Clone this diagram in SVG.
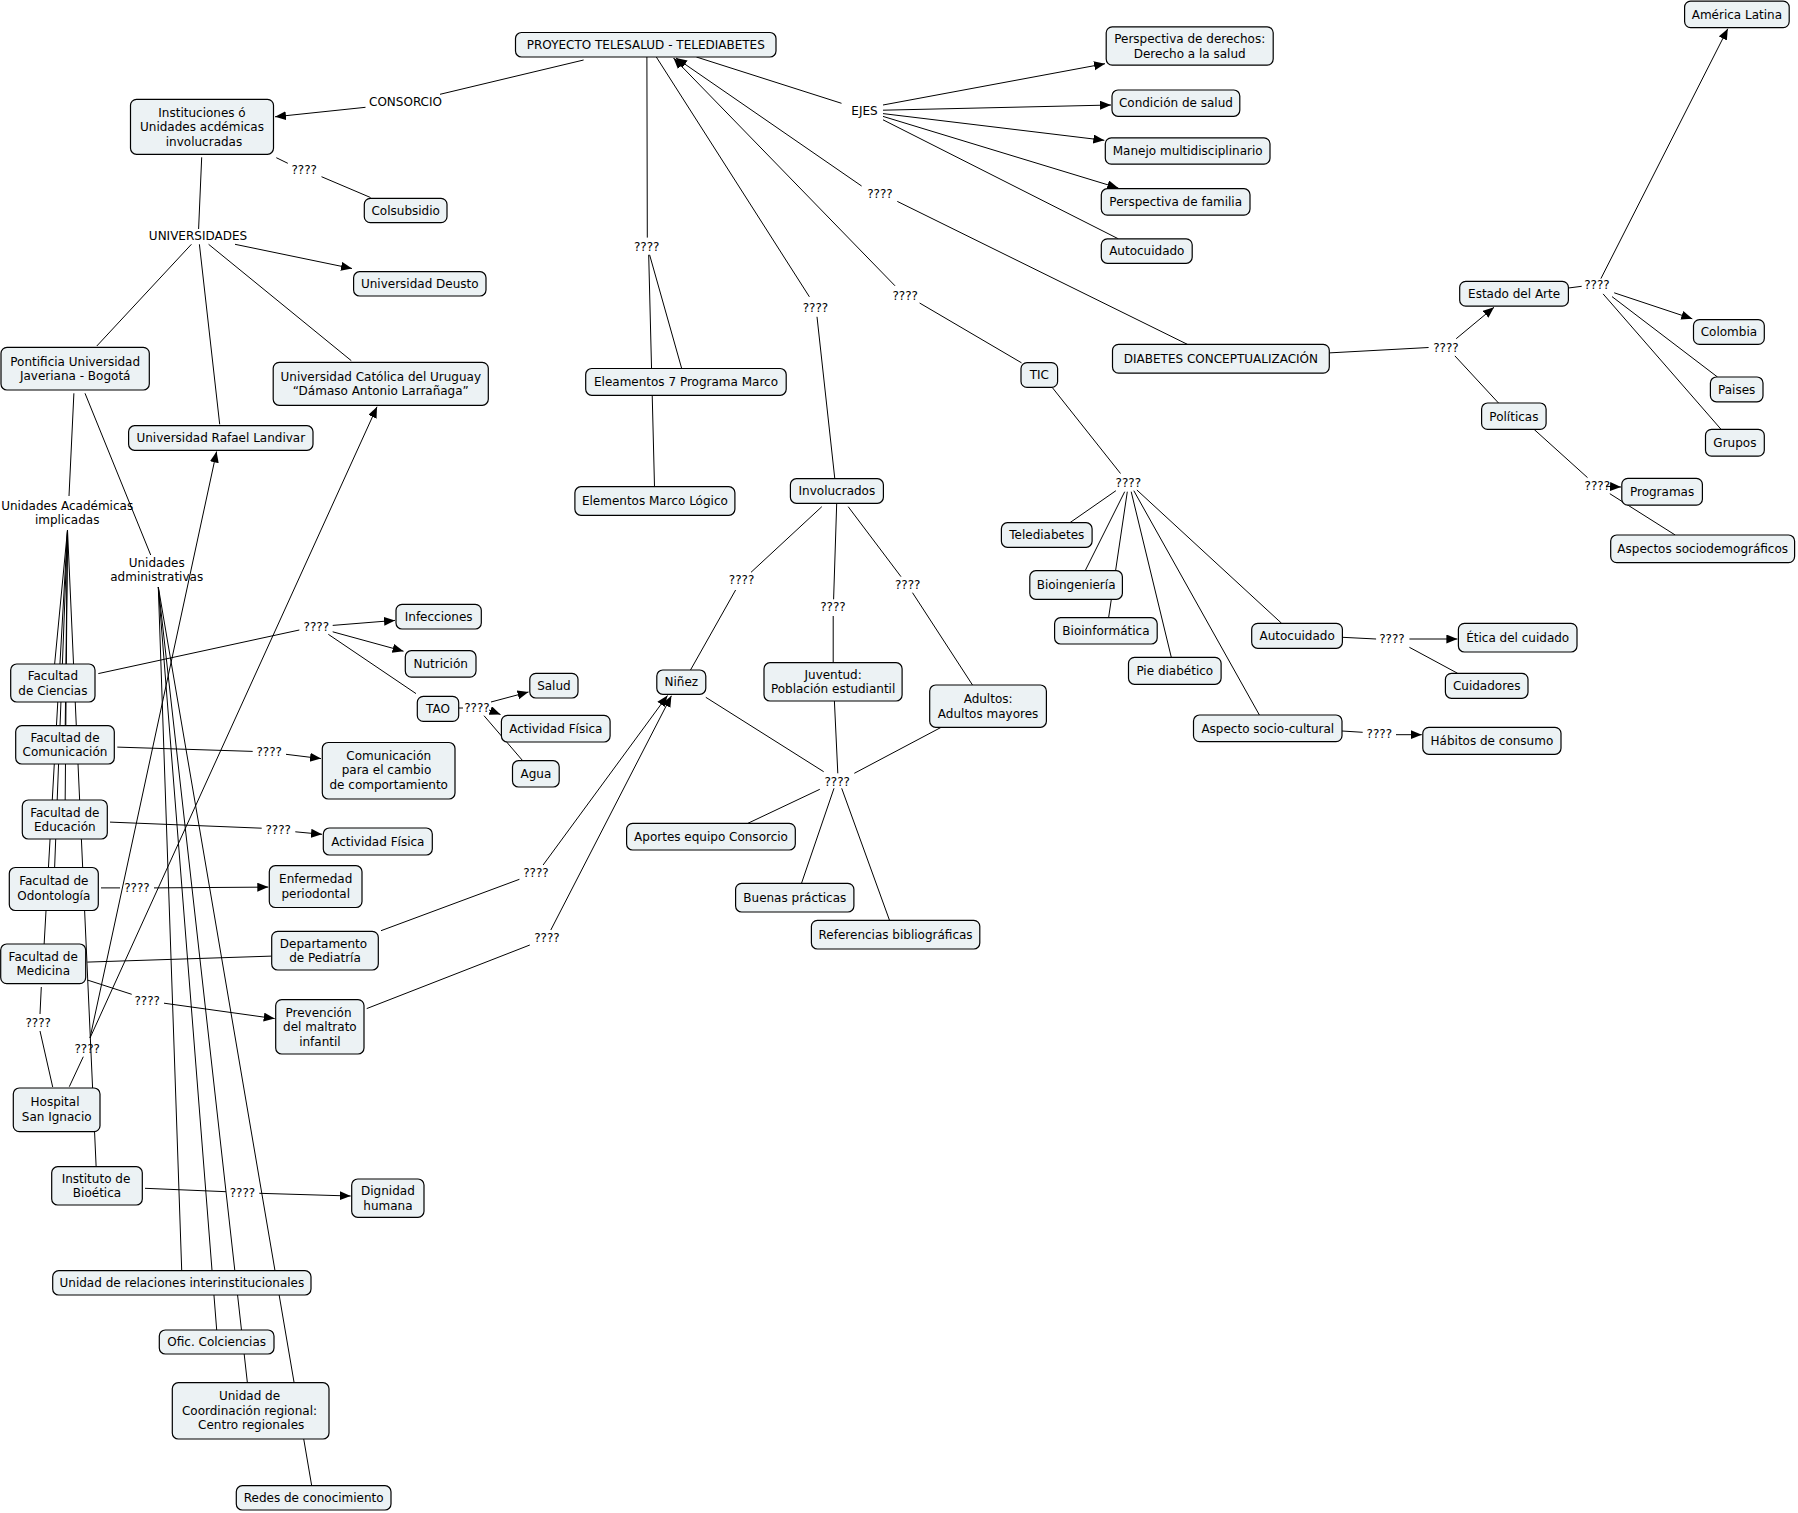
<svg xmlns="http://www.w3.org/2000/svg" width="1798" height="1513" viewBox="0 0 1798 1513">
<style>
.n rect{fill:#ecf2f4;stroke:#000;stroke-width:1.2}
text{font-family:"DejaVu Sans",Verdana,sans-serif;font-size:12px;text-anchor:middle;fill:#000}
.c line{stroke:#000;stroke-width:1;fill:none}
.c line.a{marker-end:url(#arr)}
</style>
<defs>
<marker id="arr" markerUnits="userSpaceOnUse" markerWidth="12" markerHeight="10" refX="11" refY="4.5" orient="auto">
<path d="M0,0 L11,4.5 L0,9 z" fill="#000"/>
</marker>
</defs>
<rect width="1798" height="1513" fill="#fff"/>
<g class="c" id="connectors">
<line x1="583.6" y1="60" x2="440" y2="94.3"/>
<line class="a" x1="365.5" y1="107.3" x2="275" y2="116.8"/>
<line x1="276.3" y1="157.7" x2="287.8" y2="163.3"/>
<line x1="321.5" y1="176.7" x2="370.5" y2="197.5"/>
<line x1="201.7" y1="157.3" x2="198.6" y2="229"/>
<line class="a" x1="235" y1="244.3" x2="352" y2="268.5"/>
<line x1="191.4" y1="244.3" x2="96.8" y2="346"/>
<line x1="199.4" y1="244.3" x2="219.7" y2="424.3"/>
<line x1="208.6" y1="244.3" x2="351.3" y2="360.7"/>
<line x1="73.9" y1="393.3" x2="69" y2="496"/>
<line x1="85" y1="393.3" x2="150.7" y2="555"/>
<line x1="67.5" y1="530" x2="52.8" y2="683"/>
<line x1="67.5" y1="530" x2="65" y2="745"/>
<line x1="67.5" y1="530" x2="65" y2="819"/>
<line x1="67.5" y1="530" x2="53.8" y2="889"/>
<line x1="67.5" y1="530" x2="43" y2="964"/>
<line x1="67.5" y1="530" x2="97" y2="1186"/>
<line x1="158.3" y1="587" x2="181.7" y2="1270"/>
<line x1="158.3" y1="587" x2="216.7" y2="1330"/>
<line x1="158.3" y1="587" x2="247.3" y2="1382"/>
<line x1="158.3" y1="587" x2="311.7" y2="1485.7"/>
<line x1="69.3" y1="1086.7" x2="83.3" y2="1056.7"/>
<line class="a" x1="90" y1="1038" x2="216.6" y2="451.5"/>
<line class="a" x1="90" y1="1038" x2="377" y2="406.8"/>
<line x1="41.3" y1="987" x2="40" y2="1014"/>
<line x1="40" y1="1031" x2="52.7" y2="1087"/>
<line x1="98.3" y1="673.6" x2="299.3" y2="630"/>
<line class="a" x1="332.7" y1="625.4" x2="395" y2="620.4"/>
<line class="a" x1="332.7" y1="631.8" x2="403.5" y2="651.2"/>
<line x1="328.3" y1="634.3" x2="416" y2="693.6"/>
<line x1="458.7" y1="708" x2="463" y2="708"/>
<line class="a" x1="491" y1="702" x2="528.5" y2="692"/>
<line class="a" x1="489" y1="710" x2="500.5" y2="714.5"/>
<line x1="484" y1="715.7" x2="522.1" y2="760"/>
<line x1="117.3" y1="747.1" x2="252.7" y2="751.4"/>
<line class="a" x1="286" y1="754.3" x2="321" y2="758.6"/>
<line x1="110" y1="822.1" x2="261.7" y2="828.2"/>
<line class="a" x1="295.3" y1="831.8" x2="322" y2="834.3"/>
<line x1="101" y1="887.9" x2="120" y2="887.9"/>
<line class="a" x1="154" y1="887.9" x2="268.3" y2="887.1"/>
<line x1="87.3" y1="962.1" x2="271.7" y2="956.1"/>
<line x1="87.3" y1="980" x2="131.7" y2="994.3"/>
<line class="a" x1="164" y1="1003.2" x2="274.7" y2="1018.6"/>
<line x1="145" y1="1188.3" x2="226" y2="1191.7"/>
<line class="a" x1="259.3" y1="1193.3" x2="350.7" y2="1196"/>
<line x1="381" y1="930.7" x2="519.4" y2="879.3"/>
<line class="a" x1="543.1" y1="865" x2="667.5" y2="695.5"/>
<line x1="366.7" y1="1008.6" x2="529.8" y2="945"/>
<line class="a" x1="550.8" y1="930" x2="671.4" y2="695.8"/>
<line x1="646.9" y1="57" x2="647.3" y2="237.6"/>
<line x1="648.7" y1="254.8" x2="654.5" y2="486.7"/>
<line x1="649.6" y1="254.8" x2="681.7" y2="368.5"/>
<line x1="656.3" y1="57" x2="809.4" y2="296.8"/>
<line x1="817" y1="316.8" x2="834.8" y2="478.7"/>
<line class="a" x1="895" y1="285.8" x2="673.5" y2="58"/>
<line x1="919.6" y1="303" x2="1021.5" y2="362.8"/>
<line class="a" x1="861.6" y1="186" x2="676" y2="58"/>
<line x1="897.3" y1="201.4" x2="1187.5" y2="344.4"/>
<line x1="696.4" y1="57" x2="841.5" y2="103.3"/>
<line class="a" x1="883" y1="105" x2="1105" y2="63.7"/>
<line class="a" x1="883" y1="110.2" x2="1111" y2="105"/>
<line class="a" x1="883" y1="113.6" x2="1104.3" y2="140.3"/>
<line class="a" x1="883" y1="116.4" x2="1118.3" y2="188"/>
<line x1="883" y1="119.8" x2="1118.3" y2="238.8"/>
<line x1="821.8" y1="506.7" x2="751" y2="572.3"/>
<line x1="735.6" y1="590" x2="690.5" y2="670"/>
<line x1="836.7" y1="503.3" x2="833.6" y2="599.3"/>
<line x1="833.2" y1="616" x2="833.2" y2="662.7"/>
<line x1="848.2" y1="506.7" x2="901" y2="576.7"/>
<line x1="912.5" y1="592.7" x2="972.5" y2="685"/>
<line x1="705.8" y1="697.3" x2="823.7" y2="771.7"/>
<line x1="834.4" y1="701" x2="837.8" y2="773.3"/>
<line x1="941.2" y1="727.3" x2="854.3" y2="773.3"/>
<line x1="819.8" y1="789.3" x2="747.9" y2="823.3"/>
<line x1="834" y1="788.3" x2="801.5" y2="883.3"/>
<line x1="841.7" y1="788.3" x2="889.5" y2="920.3"/>
<line x1="1052.2" y1="387.4" x2="1120.5" y2="473.5"/>
<line x1="1115.9" y1="490.7" x2="1069.9" y2="522.7"/>
<line x1="1124.7" y1="491.7" x2="1085.2" y2="570.7"/>
<line x1="1127.3" y1="491.7" x2="1108.6" y2="617.7"/>
<line x1="1131.2" y1="491.7" x2="1171.3" y2="657.3"/>
<line x1="1133.8" y1="490.7" x2="1259.4" y2="715"/>
<line x1="1136.9" y1="490" x2="1281.6" y2="623.3"/>
<line x1="1342.4" y1="637.3" x2="1376.1" y2="639"/>
<line class="a" x1="1409.4" y1="639" x2="1457.4" y2="639"/>
<line x1="1409.4" y1="647.3" x2="1457.6" y2="673.3"/>
<line x1="1342" y1="731" x2="1362.7" y2="732.3"/>
<line class="a" x1="1396" y1="734.7" x2="1421.8" y2="734.7"/>
<line x1="1329.3" y1="352.9" x2="1428.6" y2="347.5"/>
<line class="a" x1="1456.2" y1="338.7" x2="1494" y2="307.3"/>
<line x1="1454.9" y1="355.9" x2="1498.5" y2="403"/>
<line x1="1568.4" y1="288" x2="1581.7" y2="286.3"/>
<line class="a" x1="1600.9" y1="278.6" x2="1727.8" y2="28.7"/>
<line class="a" x1="1614.2" y1="292.8" x2="1692.3" y2="318.8"/>
<line x1="1612" y1="296.6" x2="1717.5" y2="377"/>
<line x1="1603.1" y1="293.9" x2="1721.1" y2="429.4"/>
<line x1="1534.1" y1="429.4" x2="1587.5" y2="477.6"/>
<line class="a" x1="1606" y1="486.3" x2="1621" y2="487"/>
<line x1="1609.8" y1="493.7" x2="1675.2" y2="535"/>
</g>
<g id="labels">
<text x="405.5" y="106">CONSORCIO</text>
<text x="304.2" y="174.3">????</text>
<text x="198" y="240">UNIVERSIDADES</text>
<text x="67.2" y="510"><tspan x="67.2" y="510">Unidades Académicas</tspan><tspan x="67.2" y="524.3">implicadas</tspan></text>
<text x="156.7" y="567"><tspan x="156.7" y="567">Unidades</tspan><tspan x="156.7" y="581.4">administrativas</tspan></text>
<text x="316.3" y="630.7">????</text>
<text x="477" y="712.2">????</text>
<text x="269.2" y="756.1">????</text>
<text x="278.2" y="833.6">????</text>
<text x="137" y="892.2">????</text>
<text x="147.2" y="1005">????</text>
<text x="38.2" y="1027.3">????</text>
<text x="87.2" y="1053.3">????</text>
<text x="242.5" y="1197">????</text>
<text x="535.9" y="877">????</text>
<text x="547" y="941.6">????</text>
<text x="646.7" y="251.2">????</text>
<text x="815.4" y="311.5">????</text>
<text x="905.2" y="299.8">????</text>
<text x="880" y="197.8">????</text>
<text x="864.5" y="115.2">EJES</text>
<text x="741.6" y="584.3">????</text>
<text x="833" y="611">????</text>
<text x="907.7" y="589.3">????</text>
<text x="837.2" y="786">????</text>
<text x="1128.3" y="486.5">????</text>
<text x="1392" y="643.3">????</text>
<text x="1379.3" y="738.3">????</text>
<text x="1446" y="351.8">????</text>
<text x="1597" y="289.4">????</text>
<text x="1597.3" y="489.6">????</text>
</g>
<g class="n" id="proj"><rect x="515.5" y="32.5" width="260.5" height="24.5" rx="6"/><text x="645.8" y="49">PROYECTO TELESALUD - TELEDIABETES</text></g>
<g class="n" id="inst"><rect x="130.5" y="99.3" width="143" height="55" rx="6"/><text><tspan x="202" y="116.8">Instituciones ó</tspan><tspan x="202" y="131.3">Unidades acdémicas</tspan><tspan x="204" y="145.8">involucradas</tspan></text></g>
<g class="n" id="colsub"><rect x="364.3" y="198.3" width="82.7" height="24.4" rx="6"/><text x="405.7" y="214.8">Colsubsidio</text></g>
<g class="n" id="deusto"><rect x="353.6" y="271.7" width="132.4" height="24.3" rx="6"/><text x="419.8" y="288.1">Universidad Deusto</text></g>
<g class="n" id="puj"><rect x="1" y="347.3" width="148.3" height="42.7" rx="6"/><text><tspan x="75.2" y="365.5">Pontificia Universidad</tspan><tspan x="75.2" y="380">Javeriana - Bogotá</tspan></text></g>
<g class="n" id="ucu"><rect x="273.2" y="362.3" width="215.1" height="43" rx="6"/><text><tspan x="380.8" y="380.8">Universidad Católica del Uruguay</tspan><tspan x="380.8" y="395.3">“Dámaso Antonio Larrañaga”</tspan></text></g>
<g class="n" id="url"><rect x="128.6" y="425.7" width="184.4" height="24.6" rx="6"/><text x="220.8" y="442.3">Universidad Rafael Landivar</text></g>
<g class="n" id="fciencias"><rect x="10.7" y="664" width="84.3" height="38" rx="6"/><text><tspan x="52.9" y="680">Facultad</tspan><tspan x="52.9" y="694.5">de Ciencias</tspan></text></g>
<g class="n" id="fcom"><rect x="15.7" y="725.7" width="98.6" height="38.3" rx="6"/><text><tspan x="65" y="741.9">Facultad de</tspan><tspan x="65" y="756.4">Comunicación</tspan></text></g>
<g class="n" id="fedu"><rect x="22.3" y="800" width="85" height="39" rx="6"/><text><tspan x="64.8" y="816.6">Facultad de</tspan><tspan x="64.8" y="831.1">Educación</tspan></text></g>
<g class="n" id="fodo"><rect x="9.3" y="867.5" width="89" height="43" rx="6"/><text><tspan x="53.8" y="885.3">Facultad de</tspan><tspan x="53.8" y="899.8">Odontología</tspan></text></g>
<g class="n" id="fmed"><rect x="0.7" y="944" width="85" height="39.6" rx="6"/><text><tspan x="43.2" y="960.9">Facultad de</tspan><tspan x="43.2" y="975.4">Medicina</tspan></text></g>
<g class="n" id="hosp"><rect x="13.3" y="1088" width="86.7" height="43.7" rx="6"/><text><tspan x="55" y="1106.2">Hospital</tspan><tspan x="56.7" y="1120.7">San Ignacio</tspan></text></g>
<g class="n" id="bioet"><rect x="51.7" y="1166.7" width="90.6" height="38.3" rx="6"/><text><tspan x="96" y="1182.9">Instituto de</tspan><tspan x="97" y="1197.4">Bioética</tspan></text></g>
<g class="n" id="urel"><rect x="52.7" y="1270.7" width="258.3" height="24.3" rx="6"/><text x="181.9" y="1287.1">Unidad de relaciones interinstitucionales</text></g>
<g class="n" id="colc"><rect x="159.3" y="1330" width="114.7" height="24" rx="6"/><text x="216.7" y="1346.3">Ofic. Colciencias</text></g>
<g class="n" id="ucoord"><rect x="172.3" y="1382.7" width="156.7" height="56.3" rx="6"/><text><tspan x="249.5" y="1400.4">Unidad de</tspan><tspan x="249.5" y="1414.9">Coordinación regional:</tspan><tspan x="251.2" y="1429.4">Centro regionales</tspan></text></g>
<g class="n" id="redes"><rect x="236.3" y="1485.7" width="154.7" height="24.3" rx="6"/><text x="313.7" y="1502.1">Redes de conocimiento</text></g>
<g class="n" id="infec"><rect x="396" y="604.3" width="85.3" height="24.7" rx="6"/><text x="438.7" y="620.9">Infecciones</text></g>
<g class="n" id="nutri"><rect x="405.3" y="650.7" width="70.7" height="26.4" rx="6"/><text x="440.7" y="668.2">Nutrición</text></g>
<g class="n" id="tao"><rect x="417.3" y="696.4" width="41.4" height="25" rx="6"/><text x="438" y="713.2">TAO</text></g>
<g class="n" id="salud"><rect x="529.8" y="673.3" width="48.2" height="24.7" rx="6"/><text x="553.9" y="689.9">Salud</text></g>
<g class="n" id="actf1"><rect x="501.4" y="715.3" width="108.7" height="26.7" rx="6"/><text x="555.8" y="732.9">Actividad Física</text></g>
<g class="n" id="agua"><rect x="512.5" y="760.7" width="46.7" height="26.3" rx="6"/><text x="535.9" y="778.1">Agua</text></g>
<g class="n" id="comcam"><rect x="322.3" y="742.5" width="132.7" height="56.5" rx="6"/><text><tspan x="388.7" y="759.7">Comunicación</tspan><tspan x="386.5" y="774.2">para el cambio</tspan><tspan x="388.7" y="788.7">de comportamiento</tspan></text></g>
<g class="n" id="actf2"><rect x="323.3" y="828" width="109" height="27" rx="6"/><text x="377.8" y="845.8">Actividad Física</text></g>
<g class="n" id="enfper"><rect x="269.3" y="865.7" width="92.7" height="41.8" rx="6"/><text><tspan x="315.7" y="883">Enfermedad</tspan><tspan x="315.7" y="897.5">periodontal</tspan></text></g>
<g class="n" id="dped"><rect x="271.7" y="931.4" width="106.6" height="38.6" rx="6"/><text><tspan x="323.5" y="947.8">Departamento</tspan><tspan x="325" y="962.3">de Pediatría</tspan></text></g>
<g class="n" id="prev"><rect x="275.7" y="999.6" width="88.3" height="54.4" rx="6"/><text><tspan x="318.5" y="1016.6">Prevención</tspan><tspan x="319.9" y="1031.1">del maltrato</tspan><tspan x="319.9" y="1045.6">infantil</tspan></text></g>
<g class="n" id="dign"><rect x="351.7" y="1179" width="72.3" height="38.3" rx="6"/><text><tspan x="387.9" y="1195.2">Dignidad</tspan><tspan x="387.9" y="1209.7">humana</tspan></text></g>
<g class="n" id="elem7"><rect x="585.7" y="368.5" width="200.5" height="26.8" rx="6"/><text x="686" y="386.2">Eleamentos 7 Programa Marco</text></g>
<g class="n" id="eml"><rect x="574.9" y="486.7" width="160" height="28.6" rx="6"/><text x="654.9" y="505.3">Elementos Marco Lógico</text></g>
<g class="n" id="invol"><rect x="790.4" y="478.7" width="93" height="24.6" rx="6"/><text x="836.9" y="495.3">Involucrados</text></g>
<g class="n" id="ninez"><rect x="656.8" y="670" width="49" height="24.3" rx="6"/><text x="681.3" y="686.4">Niñez</text></g>
<g class="n" id="juv"><rect x="764" y="662.7" width="138.1" height="38.3" rx="6"/><text><tspan x="833.1" y="678.9">Juventud:</tspan><tspan x="833.1" y="693.4">Población estudiantil</tspan></text></g>
<g class="n" id="adult"><rect x="929.7" y="685" width="116.7" height="42.3" rx="6"/><text><tspan x="988.1" y="703">Adultos:</tspan><tspan x="988.1" y="717.5">Adultos mayores</tspan></text></g>
<g class="n" id="aportes"><rect x="626.6" y="823.3" width="168.7" height="26.7" rx="6"/><text x="711" y="840.9">Aportes equipo Consorcio</text></g>
<g class="n" id="buenas"><rect x="735.6" y="883.3" width="118.3" height="28.7" rx="6"/><text x="794.8" y="901.9">Buenas prácticas</text></g>
<g class="n" id="refs"><rect x="811.4" y="920.3" width="168.4" height="28.7" rx="6"/><text x="895.6" y="938.9">Referencias bibliográficas</text></g>
<g class="n" id="persder"><rect x="1106.2" y="26.8" width="167" height="38.3" rx="6"/><text><tspan x="1189.7" y="43.4">Perspectiva de derechos:</tspan><tspan x="1189.7" y="57.9">Derecho a la salud</tspan></text></g>
<g class="n" id="condsal"><rect x="1112" y="90" width="127.8" height="26.3" rx="6"/><text x="1175.9" y="107.4">Condición de salud</text></g>
<g class="n" id="manejo"><rect x="1105.3" y="137.8" width="164.7" height="26.4" rx="6"/><text x="1187.7" y="155.3">Manejo multidisciplinario</text></g>
<g class="n" id="persfam"><rect x="1101.3" y="188.7" width="148.7" height="26.4" rx="6"/><text x="1175.7" y="206.2">Perspectiva de familia</text></g>
<g class="n" id="autoc1"><rect x="1101.3" y="238.8" width="90.9" height="24.5" rx="6"/><text x="1146.8" y="255.3">Autocuidado</text></g>
<g class="n" id="tic"><rect x="1021" y="362.6" width="36.6" height="24.8" rx="6"/><text x="1039.3" y="379.3">TIC</text></g>
<g class="n" id="diab"><rect x="1112.5" y="344.4" width="216.8" height="28.7" rx="6"/><text x="1220.9" y="363">DIABETES CONCEPTUALIZACIÓN</text></g>
<g class="n" id="estado"><rect x="1459.7" y="281.3" width="108.7" height="24.9" rx="6"/><text x="1514.1" y="298">Estado del Arte</text></g>
<g class="n" id="polit"><rect x="1481.6" y="403" width="64.5" height="26.4" rx="6"/><text x="1513.9" y="420.5">Políticas</text></g>
<g class="n" id="amlat"><rect x="1684.6" y="1.1" width="104.6" height="26.5" rx="6"/><text x="1736.9" y="18.6">América Latina</text></g>
<g class="n" id="colom"><rect x="1693.5" y="319.6" width="70.8" height="24.8" rx="6"/><text x="1728.9" y="336.3">Colombia</text></g>
<g class="n" id="paises"><rect x="1710.4" y="377" width="52.6" height="24.8" rx="6"/><text x="1736.7" y="393.7">Paises</text></g>
<g class="n" id="grupos"><rect x="1705.5" y="429.4" width="58.8" height="26.8" rx="6"/><text x="1734.9" y="447.1">Grupos</text></g>
<g class="n" id="progr"><rect x="1621.8" y="478.4" width="80.6" height="26.8" rx="6"/><text x="1662.1" y="496.1">Programas</text></g>
<g class="n" id="aspsoc"><rect x="1610.7" y="535" width="183.9" height="27.6" rx="6"/><text x="1702.7" y="553.1">Aspectos sociodemográficos</text></g>
<g class="n" id="teled"><rect x="1001.4" y="522.7" width="90.7" height="24.6" rx="6"/><text x="1046.8" y="539.3">Telediabetes</text></g>
<g class="n" id="bioing"><rect x="1029.8" y="570.7" width="92.6" height="28.6" rx="6"/><text x="1076.1" y="589.3">Bioingeniería</text></g>
<g class="n" id="bioinf"><rect x="1054.6" y="617.7" width="102.6" height="26.3" rx="6"/><text x="1105.9" y="635.1">Bioinformática</text></g>
<g class="n" id="pie"><rect x="1128.5" y="657.3" width="92.6" height="27" rx="6"/><text x="1174.8" y="675.1">Pie diabético</text></g>
<g class="n" id="autoc2"><rect x="1251.7" y="623.3" width="90.7" height="25" rx="6"/><text x="1297.1" y="640.1">Autocuidado</text></g>
<g class="n" id="etica"><rect x="1458.4" y="623.3" width="118.6" height="28.7" rx="6"/><text x="1517.7" y="641.9">Ética del cuidado</text></g>
<g class="n" id="cuid"><rect x="1445.4" y="673.3" width="82.6" height="25" rx="6"/><text x="1486.7" y="690.1">Cuidadores</text></g>
<g class="n" id="aspsc"><rect x="1193.5" y="715" width="148.5" height="26.7" rx="6"/><text x="1267.8" y="732.6">Aspecto socio-cultural</text></g>
<g class="n" id="habitos"><rect x="1422.8" y="727.3" width="138.2" height="27" rx="6"/><text x="1491.9" y="745.1">Hábitos de consumo</text></g>
</svg>
